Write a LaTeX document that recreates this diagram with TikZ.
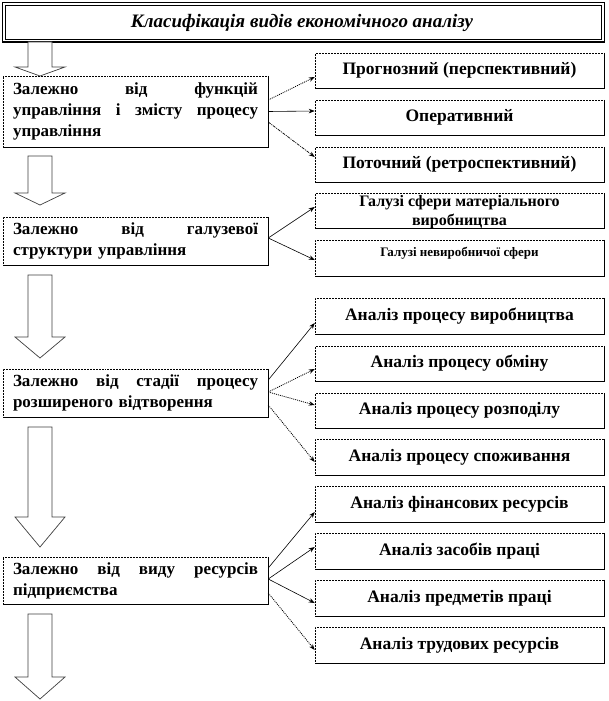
\documentclass[tikz,border=0pt]{standalone}
\usepackage{fontspec}
\setmainfont{Liberation Serif}
\usetikzlibrary{arrows.meta,calc}
\newcommand\jtwo[2]{\makebox[245pt][l]{#1\hfill #2}}
\newcommand\jthree[3]{\makebox[245pt][l]{#1\hfill #2\hfill #3}}
\newcommand\jfour[4]{\makebox[245pt][l]{#1\hfill #2\hfill #3\hfill #4}}
\begin{document}
\begin{tikzpicture}[x=1pt,y=-1pt,
  lbox/.style={rectangle, draw=black, densely dotted, line width=0.5pt,
    minimum width=265pt, inner sep=0pt, text width=245pt, align=left,
    font=\fontsize{17}{21}\selectfont\bfseries},
  rbox/.style={rectangle, draw=black, densely dotted, line width=0.5pt,
    minimum width=289pt, minimum height=35pt, inner sep=0pt, align=center,
    font=\fontsize{17.5}{19}\selectfont\bfseries},
  edge/.style={draw=black, line width=0.8pt, solid},
  conn/.style={draw=black, line width=0.6pt, -{Stealth[length=6pt,width=4.5pt]}},
  dconn/.style={conn, line width=0.8pt, dash pattern=on 1pt off 1pt},
  ddconn/.style={conn, line width=0.7pt, dash pattern=on 3pt off 1pt on 1pt off 1pt},
  barr/.style={draw=black!75, line width=0.7pt, fill=white}]
\useasboundingbox (0,0) rectangle (608,701);
\fill[white] (0,0) rectangle (608,701);
% title
\draw[line width=1.3pt] (2.5,2.5) rectangle (604.5,42);
\draw[line width=0.6pt] (5,5) rectangle (601,39);
\node[font=\fontsize{19}{22}\selectfont\bfseries\itshape] (title) at (302,22.5) {Класифікація видів економічного аналізу};
% block arrows
\newcommand\barrow[3]{\draw[barr] (28,#1) -- (52,#1) -- (52,#2) -- (65,#2) -- (40,#3) -- (15,#2) -- (28,#2) -- cycle;}
\barrow{42}{67}{76}
\barrow{156}{193}{205}
\barrow{275}{337}{358}
\barrow{427}{517}{547}
\barrow{614}{677}{699}
% left boxes
\node[lbox, minimum height=71pt] (b1) at (135.5,111.5) {\jthree{Залежно}{від}{функцій}\\\jfour{управління}{і}{змісту}{процесу}\\управління};
\node[lbox, minimum height=48pt] (b2) at (135.5,241) {\jthree{Залежно}{від}{галузевої}\\структури управління};
\node[lbox, minimum height=48pt] (b3) at (135.5,393) {\jfour{Залежно}{від}{стадії}{процесу}\\розширеного відтворення};
\node[lbox, minimum height=47pt] (b4) at (135.5,580.5) {\jfour{Залежно}{від}{виду}{ресурсів}\\підприємства};
% right boxes
\node[rbox] (r1) at (459.5,70.5) {Прогнозний (перспективний)};
\node[rbox] (r2) at (459.5,117.5) {Оперативний};
\node[rbox] (r3) at (459.5,164.5) {Поточний (ретроспективний)};
\node[rbox, font=\fontsize{16}{19}\selectfont\bfseries, text depth=0pt] (g1) at (459.5,210.5) {Галузі сфери матеріального\\виробництва};
\node[rbox, minimum height=36pt, font=\fontsize{13}{14}\selectfont\bfseries, text height=9pt, text depth=13pt] (g2) at (459.5,258) {Галузі невиробничої сфери};
\node[rbox, minimum height=36pt] (a1) at (459.5,316) {Аналіз процесу виробництва};
\node[rbox] (a2) at (459.5,363.5) {Аналіз процесу обміну};
\node[rbox] (a3) at (459.5,410.5) {Аналіз процесу розподілу};
\node[rbox, minimum height=36pt] (a4) at (459.5,457) {Аналіз процесу споживання};
\node[rbox, minimum height=36pt] (f1) at (459.5,504) {Аналіз фінансових ресурсів};
\node[rbox, minimum height=36pt] (f2) at (459.5,551) {Аналіз засобів праці};
\node[rbox, minimum height=36pt] (f3) at (459.5,598) {Аналіз предметів праці};
\node[rbox, minimum height=36pt] (f4) at (459.5,645) {Аналіз трудових ресурсів};
% solid right/bottom edges
\foreach \n in {b1,b2,b3,b4,r1,r2,r3,g1,g2,a1,a2,a3,a4,f1,f2,f3,f4}
  \draw[edge] (\n.north east) -- (\n.south east) -- (\n.south west);
% connectors
\draw[dconn] ([yshift=11.5pt]b1.east) -- ([yshift=-6.5pt]r1.west);
\draw[conn] (b1.east) -- ([yshift=6.5pt]r2.west);
\draw[ddconn] ([yshift=-10.5pt]b1.east) -- ([yshift=7.5pt]r3.west);
\draw[conn] ([yshift=3pt]b2.east) -- ([yshift=3.5pt]g1.west);
\draw[conn] ([yshift=3pt]b2.east) -- ([yshift=-2pt]g2.west);
\draw[conn] ([yshift=13pt]b3.east) -- ([yshift=-7pt]a1.west);
\draw[dconn] ([yshift=1pt]b3.east) -- ([yshift=-5.5pt]a2.west);
\draw[dconn] ([yshift=1pt]b3.east) -- ([yshift=5.5pt]a3.west);
\draw[dconn] ([yshift=-12pt]b3.east) -- ([yshift=-5pt]a4.west);
\draw[conn] ([yshift=12.5pt]b4.east) -- ([yshift=-8pt]f1.west);
\draw[conn] ([yshift=1.5pt]b4.east) -- ([yshift=4pt]f2.west);
\draw[conn] ([yshift=1.5pt]b4.east) -- ([yshift=-5pt]f3.west);
\draw[dconn] ([yshift=-12.5pt]b4.east) -- ([yshift=-5pt]f4.west);
\end{tikzpicture}
\end{document}
